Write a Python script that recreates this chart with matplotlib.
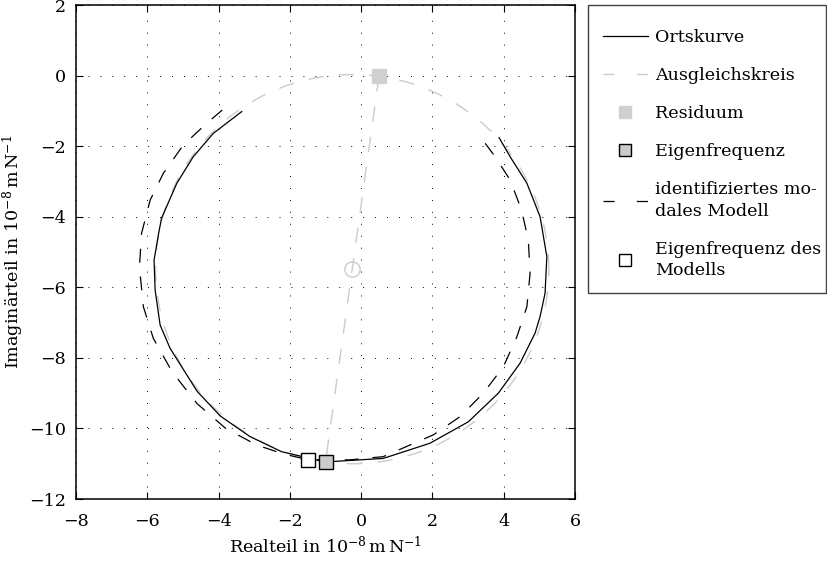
import matplotlib
matplotlib.use("Agg")
import matplotlib.pyplot as plt
from matplotlib.lines import Line2D
from matplotlib.patches import Rectangle
import numpy as np

plt.rcParams['font.family'] = ['DejaVu Serif']
plt.rcParams['mathtext.fontset'] = 'custom'
plt.rcParams['mathtext.rm'] = 'DejaVu Serif'
plt.rcParams['mathtext.it'] = 'DejaVu Serif:italic'
plt.rcParams['lines.scale_dashes'] = False
plt.rcParams['font.size'] = 12.6

# Ortskurve (measured FRF), real / imaginary parts in 1e-8 m/N
orts_re = [3.87, 4.18, 4.65, 5.02, 5.21, 5.16, 5.02, 4.88, 4.46, 3.85, 3.01, 1.93, 0.62,
           -1.0, -2.23, -3.12, -3.95, -4.6, -5.36, -5.64, -5.78, -5.81, -5.69, -5.6,
           -5.17, -4.71, -4.15, -3.35]
orts_im = [-1.76, -2.30, -3.05, -4.0, -5.13, -6.17, -6.83, -7.30, -8.15, -9.0, -9.81, -10.42,
           -10.85, -10.95, -10.66, -10.23, -9.65, -8.95, -7.73, -7.07, -6.08, -5.23, -4.52,
           -4.04, -3.05, -2.30, -1.64, -1.02]

# identified modal model
model_re = [3.48, 3.76, 4.18, 4.5, 4.69, 4.74, 4.65, 4.37, 3.99, 3.43, 2.77, 2.03, 1.37, 0.62,
            -0.31, -1.48, -2.19, -2.93, -3.8, -4.6, -5.3, -5.83, -6.11, -6.22, -6.16, -5.92,
            -5.55, -4.99, -4.33, -3.68]
model_im = [-1.92, -2.30, -2.96, -3.81, -4.66, -5.6, -6.55, -7.4, -8.25, -9.0, -9.67, -10.18,
            -10.47, -10.80, -10.89, -10.89, -10.72, -10.47, -10.0, -9.3, -8.4, -7.45, -6.55,
            -5.42, -4.47, -3.53, -2.77, -1.97, -1.35, -0.79]

# characteristic points
residuum = (0.5, -0.02)
eigenfreq = (-1.0, -10.95)
eigenfreq_model = (-1.48, -10.89)

# Ausgleichskreis: center and radius derived from residuum and eigenfrequency
center = ((residuum[0] + eigenfreq[0]) / 2, (residuum[1] + eigenfreq[1]) / 2)
radius = 0.5 * np.hypot(residuum[0] - eigenfreq[0], residuum[1] - eigenfreq[1])

gray = '#cbcbcb'
W, H = 827, 564

fig = plt.figure(figsize=(W/100, H/100), dpi=100)
ax = fig.add_axes([76/W, 1 - 499/H, 499/W, 494/H])

t = np.linspace(0, 2*np.pi, 400)
ax.plot(center[0] + radius*np.cos(t), center[1] + radius*np.sin(t), color=gray, lw=1.0,
        dashes=(11, 11), zorder=2)
ax.plot([residuum[0], eigenfreq[0]], [residuum[1], eigenfreq[1]], color=gray, lw=1.0,
        dashes=(11, 11), zorder=2)
ax.plot([center[0]], [center[1]], 'o', ms=11, mfc='none', mec=gray, mew=1.0, zorder=3)

ax.plot(orts_re, orts_im, color='black', lw=0.9, zorder=4)
ax.plot(model_re, model_im, color='black', lw=0.9, dashes=(10, 10), zorder=4)

ax.plot([residuum[0]], [residuum[1]], 's', ms=10, mfc='#d0d0d0', mec='#d0d0d0', zorder=5)
ax.plot([eigenfreq[0]], [eigenfreq[1]], 's', ms=9.5, mfc=gray, mec='black', mew=1.0, zorder=5)
ax.plot([eigenfreq_model[0]], [eigenfreq_model[1]], 's', ms=9.5, mfc='white', mec='black',
        mew=1.0, zorder=5)

ax.set_xlim(-8, 6)
ax.set_ylim(-12, 2)
ax.set_xticks(np.arange(-8, 7, 2))
ax.set_yticks(np.arange(-12, 3, 2))
ax.set_xticklabels([('\u2212%d' % -v) if v < 0 else '%d' % v for v in range(-8, 7, 2)])
ax.set_yticklabels([('\u2212%d' % -v) if v < 0 else '%d' % v for v in range(-12, 3, 2)])
ax.tick_params(direction='in', length=5, width=0.8, top=True, right=True)
ax.tick_params(axis='x', pad=10)
ax.tick_params(axis='y', pad=7)
for s in ax.spines.values():
    s.set_linewidth(1.1)
ax.grid(True, color='black', lw=0.7, dashes=(0.7, 7.9))

ax.set_xlabel(r'Realteil in $10^{-8}\,\mathrm{m\,N}^{-1}$', labelpad=4)
ax.set_ylabel(r'Imaginärteil in $10^{-8}\,\mathrm{m\,N}^{-1}$', labelpad=2)

# legend frame drawn separately
fig.patches.append(Rectangle((588/W, 1 - 293/H), (826 - 588)/W, (293 - 5)/H,
                             transform=fig.transFigure, facecolor='white',
                             edgecolor='#404040', lw=1.0, zorder=0))

handles = [
    Line2D([], [], color='black', lw=0.9),
    Line2D([], [], color=gray, lw=1.0, dashes=(8, 16)),
    Line2D([], [], ls='none', marker='s', ms=9, mfc='#d0d0d0', mec='#d0d0d0'),
    Line2D([], [], ls='none', marker='s', ms=9, mfc=gray, mec='black', mew=1.0),
    Line2D([], [], color='black', lw=0.9, dashes=(8, 16)),
    Line2D([], [], ls='none', marker='s', ms=9, mfc='white', mec='black', mew=1.0),
]
labels = ['Ortskurve', 'Ausgleichskreis', 'Residuum', 'Eigenfrequenz',
          'identifiziertes mo-\ndales Modell', 'Eigenfrequenz des\nModells']
leg = fig.legend(handles, labels, loc='upper left', bbox_to_anchor=(603/W, 1 - 29/H),
                 frameon=False, handlelength=2.55, handletextpad=0.4, labelspacing=1.2,
                 borderpad=0, borderaxespad=0)
for txt in leg.get_texts():
    txt.set_linespacing(1.35)

fig.savefig('out.png', dpi=100)
